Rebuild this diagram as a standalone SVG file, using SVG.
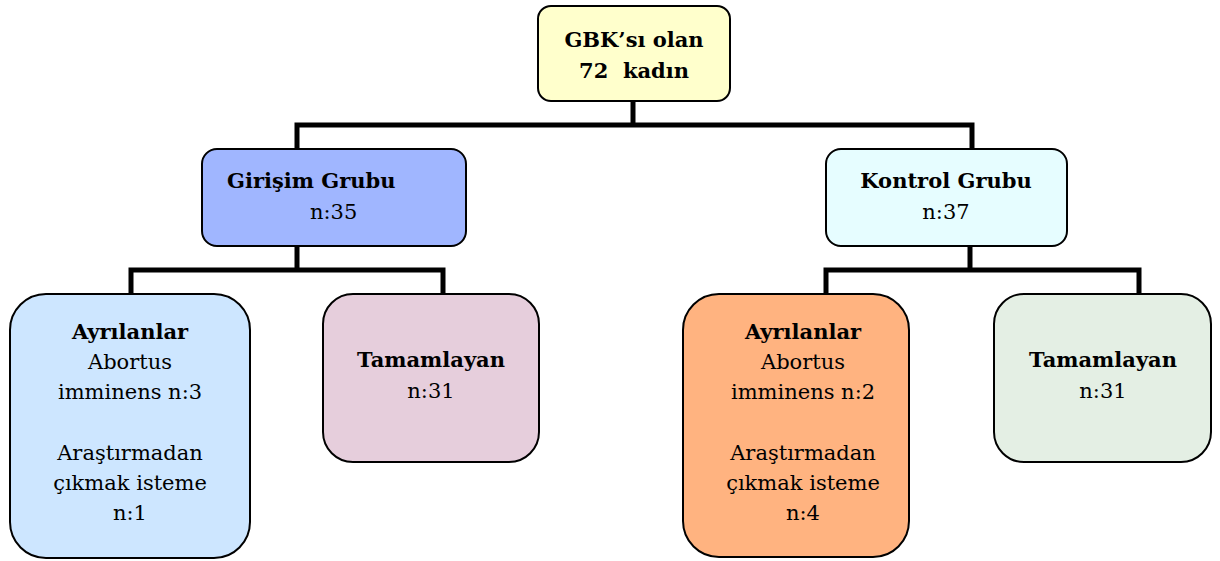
<svg xmlns="http://www.w3.org/2000/svg" width="1220" height="561" viewBox="0 0 1220 561">
  <style>
    .box { stroke: #000; stroke-width: 2; }
    .conn { fill: none; stroke: #000; stroke-width: 5; stroke-linecap: butt; stroke-linejoin: miter; }
    text { font-family: 'DejaVu Serif', serif; font-size: 21px; fill: #000; }
    .b { font-weight: bold; }
    .c { text-anchor: middle; }
  </style>
  <rect width="1220" height="561" fill="#fff"/>

  <!-- connectors -->
  <g id="connectors">
    <path class="conn" d="M633 101 V125"/>
    <path class="conn" d="M297 150 V125 H972 V150"/>
    <path class="conn" d="M297 246 V270"/>
    <path class="conn" d="M131 295 V270 H443 V295"/>
    <path class="conn" d="M970 246 V270"/>
    <path class="conn" d="M826 295 V270 H1139 V295"/>
    <path d="M823.5 293 H828.5 V302 H823.5 Z" fill="#8a3a12"/>
  </g>

  <!-- root -->
  <g id="root">
    <rect class="box" x="538" y="6" width="192" height="95" rx="13" fill="#ffffcc"/>
    <text class="b c" x="634" y="47">GBK’sı olan</text>
    <text class="b c" x="634" y="78" xml:space="preserve">72  kadın</text>
  </g>

  <!-- intervention group -->
  <g id="girisim">
    <rect class="box" x="202" y="149" width="264" height="97" rx="15" fill="#a0b6ff"/>
    <text class="b" x="227" y="188">Girişim Grubu</text>
    <text x="310" y="219">n:35</text>
  </g>

  <!-- control group -->
  <g id="kontrol">
    <rect class="box" x="826" y="149" width="241" height="97" rx="15" fill="#e6fdff"/>
    <text class="b c" x="946" y="188">Kontrol Grubu</text>
    <text class="c" x="946" y="219">n:37</text>
  </g>

  <!-- intervention: dropouts -->
  <g id="ayrilanlar-girisim">
    <rect class="box" x="10" y="294" width="240" height="264" rx="36" fill="#cde6ff"/>
    <text class="b c" x="130" y="339">Ayrılanlar</text>
    <text class="c" x="130" y="369">Abortus</text>
    <text class="c" x="130" y="399">imminens n:3</text>
    <text class="c" x="130" y="460">Araştırmadan</text>
    <text class="c" x="130" y="490">çıkmak isteme</text>
    <text class="c" x="130" y="520">n:1</text>
  </g>

  <!-- intervention: completed -->
  <g id="tamamlayan-girisim">
    <rect class="box" x="323" y="294" width="216" height="168" rx="30" fill="#e6cedc"/>
    <text class="b c" x="431" y="367">Tamamlayan</text>
    <text class="c" x="431" y="398">n:31</text>
  </g>

  <!-- control: dropouts -->
  <g id="ayrilanlar-kontrol">
    <rect class="box" x="683" y="294" width="226" height="263" rx="36" fill="#ffb380"/>
    <text class="b c" x="803" y="339">Ayrılanlar</text>
    <text class="c" x="803" y="369">Abortus</text>
    <text class="c" x="803" y="399">imminens n:2</text>
    <text class="c" x="803" y="460">Araştırmadan</text>
    <text class="c" x="803" y="490">çıkmak isteme</text>
    <text class="c" x="803" y="520">n:4</text>
  </g>

  <!-- control: completed -->
  <g id="tamamlayan-kontrol">
    <rect class="box" x="994" y="294" width="217" height="168" rx="30" fill="#e4efe4"/>
    <text class="b c" x="1103" y="367">Tamamlayan</text>
    <text class="c" x="1103" y="398">n:31</text>
  </g>
</svg>
